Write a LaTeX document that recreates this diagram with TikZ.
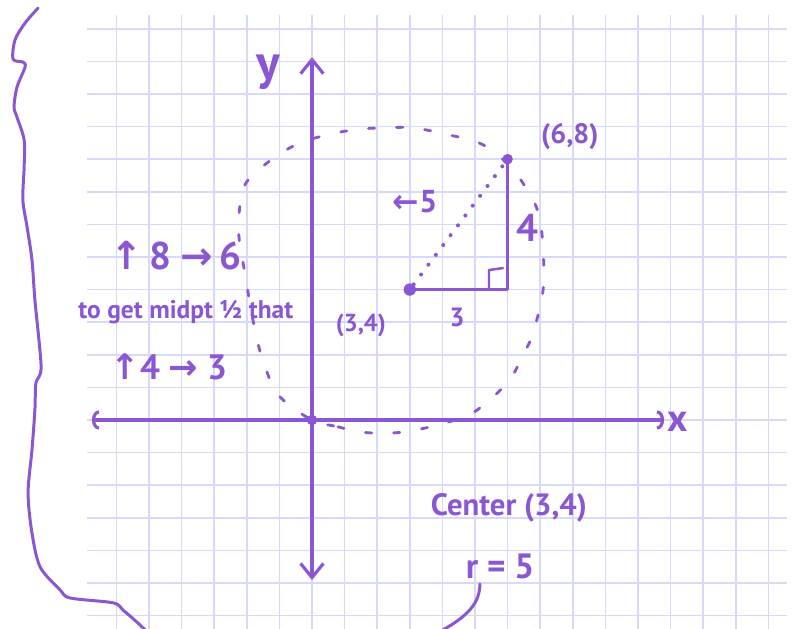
\documentclass[tikz,border=0pt]{standalone}
\usepackage{fontspec}
\setmainfont{PT Sans}
\newfontfamily\arrowfont{DejaVu Sans}
\usetikzlibrary{arrows.meta,calc}
\definecolor{penpurple}{RGB}{138,86,210}
\definecolor{gridlav}{RGB}{216,216,250}
\newcommand{\up}{{\arrowfont ↑}}
\newcommand{\rt}{{\arrowfont →}}
\newcommand{\lf}{{\arrowfont ←}}
\tikzset{
  gridline/.style={draw=gridlav, line width=0.9pt},
  penline/.style={draw=penpurple, line width=1.7pt, line cap=round, line join=round},
  axisline/.style={penline, line width=1.8pt},
  hand/.style={text=penpurple, inner sep=0pt, font=\fontsize{#1}{#1}\selectfont\bfseries},
  hand/.default=18,
  dotpt/.style={circle, fill=penpurple, inner sep=0pt, minimum size=#1},
}

\begin{document}
\begin{tikzpicture}[
    x=0.652cm, y=0.652cm,
    circdash/.style={penline, line width=1.6pt, dash pattern=on 3.5pt off 12.5pt},
    hypdots/.style={penline, line width=2.3pt, dash pattern=on 0pt off 7pt},
  ]
  \useasboundingbox (-9.571,-6.411) rectangle (14.847,12.883);
  \fill[white] (-9.571,-6.411) rectangle (14.847,12.883);

  % ============ Graph paper ============
  \foreach \gy in {-6,...,12}
    \draw[gridline] (-6.9,\gy) -- (14.57,\gy);
  \foreach \gx in {-6,...,14}
    \draw[gridline] (\gx,-6.45) -- (\gx,12.42);

  % ============ Axes ============
  \coordinate (xl) at (-6.75,0);
  \coordinate (xr) at (10.8,0);
  \coordinate (yt) at (0,11.13);
  \coordinate (yb) at (0,-4.91);
  \draw[axisline, {Arc Barb[length=4pt,width=11pt]}-{Arc Barb[length=4pt,width=11pt]}] (xl) -- (xr);
  \draw[axisline, {Straight Barb[length=8pt,width=13pt]}-{Straight Barb[length=8pt,width=13pt]}] (yt) -- (yb);
  \node[hand=22] (xlab) at (11.23,-0.06) {x};
  \node[hand=28] (ylab) at (-1.35,10.67) {y};

  % ============ Circle (hand dashed) ============
  \draw[circdash] plot[smooth cycle, tension=0.6] coordinates {
    (0,0) (0.8,-0.21) (1.47,-0.37) (2.45,-0.4) (3.31,-0.28) (4.2,-0.06)
    (5.03,0.28) (6.01,1.17) (6.47,1.99) (6.78,2.67) (7.09,3.99) (7.09,5.21)
    (6.99,6.13) (6.75,6.81) (6.1,7.75) (5.25,8.44) (4.23,8.74) (3.1,8.96)
    (2.27,8.96) (1.56,8.93) (0.71,8.8) (-0.28,8.53) (-1.04,8.13) (-1.69,7.61)
    (-2.12,7.06) (-2.25,5.8) (-2.06,4.51) (-1.75,2.76) (-1.44,1.63) (-0.98,0.71)};

  % ============ Points and triangle ============
  \node[dotpt=6pt] (orig) at (0,0) {};
  \node[dotpt=7pt] (ctr)  at (3,4) {};
  \node[dotpt=6pt] (top)  at (6,8) {};
  \coordinate (corner) at (6,4);
  \draw[penline] (ctr.center) -- (corner) -- (top.center);
  \draw[hypdots] (ctr) -- (top);
  \draw[penline, line width=1.4pt] ($(corner)+(-0.57,0.05)$) -- ++(0,0.55) -- ++(0.43,0.06);

  \node[hand=16] (toplab) at (7.91,8.68) {(6,8)};
  \node[hand=18] (hyplab) at (3.16,6.69) {\lf5};
  \node[hand=22] (vleg)   at (6.6,5.89)  {4};
  \node[hand=15] (hleg)   at (4.45,3.13) {3};
  \node[hand=14] (ctrlab) at (1.5,2.91)  {(3,4)};

  % ============ Side notes ============
  \node[hand=22] (note1) at (-4.17,5.03) {\up\,8 \rt\,6};
  \node[hand=14.5] (note2) at (-3.87,3.31) {to get midpt ½ that};
  \node[hand=20] (note3) at (-4.39,1.63) {\up4 \rt\ 3};

  % ============ Summary ============
  \node[hand=17.5] (summ1) at (6.04,-2.7)  {Center (3,4)};
  \node[hand=20] (summ2) at (5.77,-4.48) {r = 5};
  \draw[penline] (5.15,-5.03) .. controls (5.15,-5.6) and (4.8,-6.0) .. (4.0,-6.45);

  % ============ Brace ============
  \draw[penline] plot[smooth, tension=0.5] coordinates {
    (-8.40,12.64) (-8.80,12.18) (-9.11,11.66) (-9.17,11.07) (-8.87,10.98)
    (-8.80,10.83) (-9.05,10.21) (-9.14,9.60) (-9.05,9.29) (-8.83,8.59)
    (-8.83,7.76) (-8.87,6.75) (-8.74,5.92) (-8.59,4.91) (-8.50,3.68)
    (-8.31,1.63) (-8.47,1.13) (-8.50,0.31) (-8.59,-0.92) (-8.71,-2.24)
    (-8.59,-3.47) (-8.34,-4.51) (-7.73,-5.21) (-7.42,-5.46) (-6.10,-5.61)
    (-5.80,-5.83) (-5.37,-6.20) (-5.06,-6.50)};

\end{tikzpicture}
\end{document}
